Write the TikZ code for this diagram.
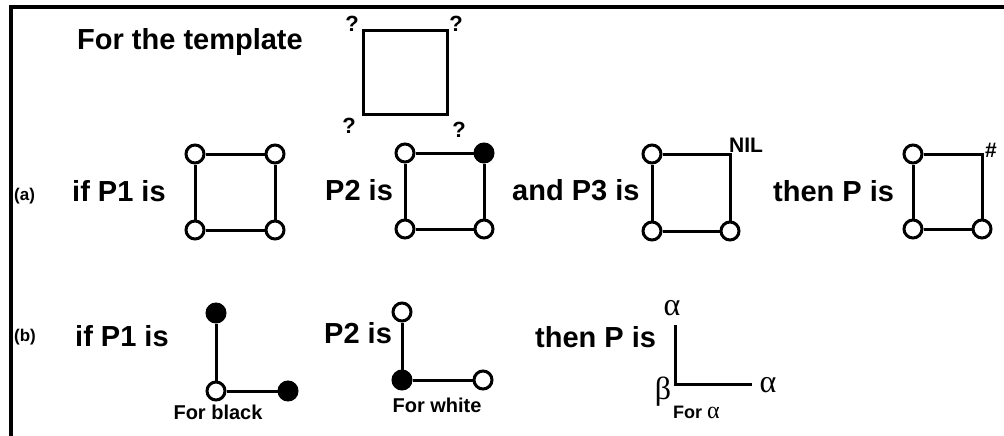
\documentclass[tikz,border=0pt]{standalone}
\usepackage{fontspec}
\setmainfont{Liberation Sans}
\newfontfamily\greekserif{Liberation Serif}
\begin{document}
\begin{tikzpicture}[x=1pt,y=-1pt]
\tikzset{
  edge/.style={line width=3pt},
  wdot/.style={circle, draw, line width=3pt, fill=white, minimum size=18pt, inner sep=0pt},
  bdot/.style={wdot, fill=black},
  lbl/.style={font=\fontsize{29}{31}\selectfont\bfseries, inner sep=0pt, anchor=base west},
  tag/.style={font=\fontsize{17}{20}\selectfont\bfseries, inner sep=0pt, anchor=base west},
  qlbl/.style={font=\fontsize{22}{24}\selectfont\bfseries, inner sep=0pt, anchor=base},
  sublbl/.style={font=\fontsize{20}{22}\selectfont\bfseries, inner sep=0pt, anchor=base},
  grk/.style={font=\fontsize{32}{34}\selectfont\greekserif, inner sep=0pt, anchor=base},
}
\useasboundingbox (0,0) rectangle (1004,436);
% frame
\draw[line width=4.5pt] (11,436) -- (11,7) -- (1004,7);

% template
\node[lbl] (tpl) at (77,49) {For the template};
\coordinate (t1) at (363,31);
\coordinate (t2) at (447,31);
\coordinate (t3) at (447,114);
\coordinate (t4) at (363,114);
\draw[edge] (t1) -- (t2) -- (t3) -- (t4) -- cycle;
\node[qlbl] (q1) at (352,32) {?};
\node[qlbl] (q2) at (456,32) {?};
\node[qlbl] (q3) at (349,133) {?};
\node[qlbl] (q4) at (459,137) {?};

% row (a)
\node[tag] (ta) at (14,200) {(a)};
\node[lbl] (a1) at (72,201) {if P1 is};
\node[wdot] (a1tl) at (195,154) {};
\node[wdot] (a1tr) at (275,154) {};
\node[wdot] (a1bl) at (195,230) {};
\node[wdot] (a1br) at (275,230) {};
\draw[edge] (a1tl) -- (a1tr) (a1tr) -- (a1br) (a1br) -- (a1bl) (a1bl) -- (a1tl);

\node[lbl] (a2) at (325,200) {P2 is};
\node[wdot] (a2tl) at (405,153) {};
\node[bdot] (a2tr) at (484,153) {};
\node[wdot] (a2bl) at (405,229) {};
\node[wdot] (a2br) at (484,229) {};
\draw[edge] (a2tl) -- (a2tr) (a2tr) -- (a2br) (a2br) -- (a2bl) (a2bl) -- (a2tl);

\node[lbl] (a3) at (512,200) {and P3 is};
\node[wdot] (a3tl) at (652,154) {};
\coordinate (a3tr) at (730,154);
\node[wdot] (a3bl) at (652,231) {};
\node[wdot] (a3br) at (730,231) {};
\draw[edge] (a3tl) -- (a3tr) -- (a3br) (a3br) -- (a3bl) (a3bl) -- (a3tl);
\node[font=\fontsize{21}{24}\selectfont\bfseries, inner sep=0pt, anchor=base west] (nil) at (729,152) {NIL};

\node[lbl] (a4) at (773,201) {then P is};
\node[wdot] (a4tl) at (913,154) {};
\coordinate (a4tr) at (982,154);
\node[wdot] (a4bl) at (913,229) {};
\node[wdot] (a4br) at (982,229) {};
\draw[edge] (a4tl) -- (a4tr) -- (a4br) (a4br) -- (a4bl) (a4bl) -- (a4tl);
\node[font=\fontsize{21}{22}\selectfont\bfseries, inner sep=0pt, anchor=base west] (hash) at (985,157) {\#};

% row (b)
\node[tag] (tb) at (14,341) {(b)};
\node[lbl] (b1) at (75,346) {if P1 is};
\node[bdot] (b1t) at (216,313) {};
\node[wdot] (b1c) at (216,391) {};
\node[bdot] (b1r) at (288,391) {};
\draw[edge] (b1t) -- (b1c) -- (b1r);
\node[sublbl] (b1s) at (218,419) {For black};

\node[lbl] (b2) at (324,343) {P2 is};
\node[wdot] (b2t) at (402,312) {};
\node[bdot] (b2c) at (402,380) {};
\node[wdot] (b2r) at (483,380) {};
\draw[edge] (b2t) -- (b2c) -- (b2r);
\node[sublbl] (b2s) at (437,412) {For white};

\node[lbl] (b3) at (535,347) {then P is};
\coordinate (b3t) at (675,325);
\coordinate (b3c) at (675,384);
\coordinate (b3r) at (752,384);
\draw[edge] (b3t) -- (b3c) -- (b3r);
\node[grk] (alt) at (672,315) {α};
\node[grk] (alr) at (768,392) {α};
\node[grk] (bet) at (663,399) {β};
\node[font=\fontsize{18}{20}\selectfont\bfseries, inner sep=0pt, anchor=base west] (fa) at (673,418) {For {\greekserif\mdseries\fontsize{24}{26}\selectfont α}};
\end{tikzpicture}
\end{document}
